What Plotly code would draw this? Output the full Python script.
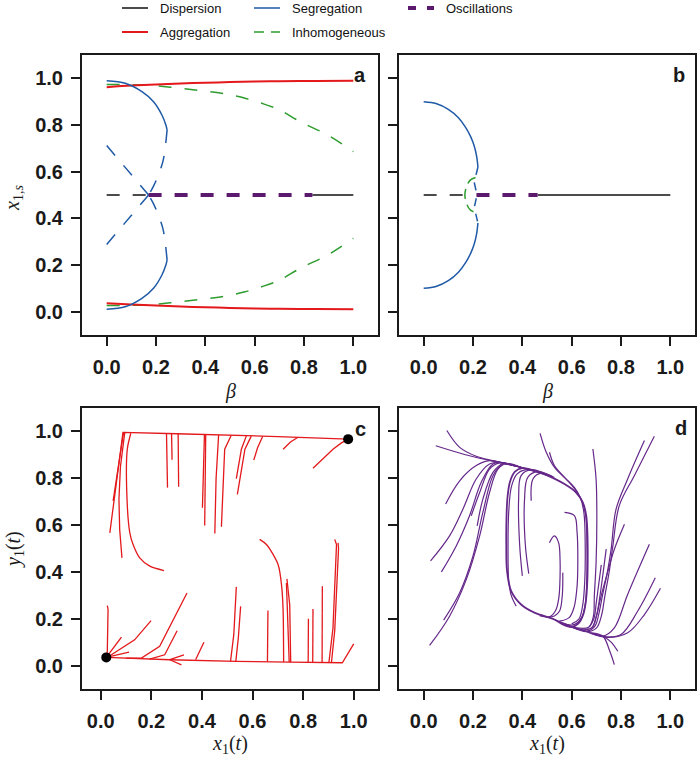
import plotly.graph_objects as go

# ---------------- data: panel a (bifurcation, case 1) ----------------
ticks = [0.0, 0.2, 0.4, 0.6, 0.8, 1.0]
tick_text = ["0.0", "0.2", "0.4", "0.6", "0.8", "1.0"]

a_red_b = [0.0, 0.1, 0.2, 0.3, 0.4, 0.5, 0.6, 0.7, 0.85, 1.0]
a_red_hi = [0.962, 0.969, 0.974, 0.978, 0.981, 0.984, 0.986, 0.988, 0.989, 0.990]
a_red_lo = [0.036, 0.031, 0.026, 0.022, 0.019, 0.016, 0.014, 0.012, 0.011, 0.010]

a_green_b = [0.0, 0.156, 0.258, 0.359, 0.467, 0.561, 0.629, 0.7, 0.785, 0.9, 1.0]
a_green_hi = [0.974, 0.971, 0.962, 0.950, 0.936, 0.915, 0.893, 0.865, 0.814, 0.755, 0.686]
a_green_lo = [0.026, 0.029, 0.038, 0.050, 0.064, 0.085, 0.107, 0.135, 0.186, 0.245, 0.314]

a_blue_sol_b = [0.0, 0.075, 0.143, 0.19, 0.224, 0.24, 0.245]
a_blue_sol_hi = [0.990, 0.979, 0.943, 0.900, 0.843, 0.800, 0.779]
a_blue_sol_lo = [0.010, 0.021, 0.057, 0.100, 0.157, 0.200, 0.221]
a_blue_dc_b = [0.245, 0.237, 0.228, 0.213, 0.19, 0.17]
a_blue_dc_hi = [0.779, 0.700, 0.644, 0.595, 0.538, 0.500]
a_blue_dc_lo = [0.221, 0.300, 0.356, 0.405, 0.462, 0.500]
a_blue_ds_b = [0.0, 0.17]
a_blue_ds_hi = [0.712, 0.500]
a_blue_ds_lo = [0.288, 0.500]

a_disp_dash_b = [0.0, 0.17]
a_osc_b = [0.17, 0.834]
a_disp_sol_b = [0.834, 1.0]
a_disp_level = [0.5, 0.5]

# ---------------- data: panel b (bifurcation, case 2) ----------------
b_blue_b = [0.0, 0.05, 0.1, 0.14, 0.17, 0.19, 0.205, 0.215, 0.22]
b_blue_hi = [0.900, 0.892, 0.867, 0.832, 0.790, 0.751, 0.710, 0.664, 0.620]
b_blue_lo = [0.100, 0.108, 0.133, 0.168, 0.210, 0.249, 0.290, 0.336, 0.380]
b_blue_dash_b = [0.22, 0.212, 0.205, 0.21, 0.215, 0.21, 0.205, 0.212, 0.22]
b_blue_dash_y = [0.62, 0.585, 0.56, 0.53, 0.50, 0.47, 0.44, 0.415, 0.38]
b_green_b = [0.21, 0.19, 0.175, 0.167, 0.175, 0.19, 0.21]
b_green_y = [0.575, 0.565, 0.54, 0.50, 0.46, 0.435, 0.425]
b_disp_dash_b = [0.0, 0.163]
b_osc_b = [0.214, 0.462]
b_disp_sol_b = [0.462, 1.0]

# ---------------- data: panel c (aggregation trajectories) ----------------
c_traj_x = [
    [0.036, 0.050, 0.065, 0.088, 0.3, 0.5, 0.7, 0.978],
    [0.049, 0.07, 0.09],
    [0.084, 0.075, 0.072, 0.078, 0.095],
    [0.25, 0.194, 0.154, 0.128, 0.115, 0.104, 0.105, 0.119],
    [0.264, 0.262, 0.26],
    [0.282, 0.281, 0.28],
    [0.308, 0.307, 0.306],
    [0.402, 0.405, 0.41],
    [0.411, 0.412, 0.415],
    [0.451, 0.456, 0.466],
    [0.477, 0.486, 0.49, 0.516],
    [0.536, 0.556, 0.576],
    [0.54, 0.558, 0.57, 0.595],
    [0.605, 0.62, 0.64],
    [0.721, 0.75, 0.78],
    [0.839, 0.88, 0.918, 0.95, 0.978],
    [1.0, 0.955, 0.75, 0.536, 0.273, 0.049, 0.022],
    [0.026, 0.029, 0.026, 0.022],
    [0.082, 0.022],
    [0.112, 0.06, 0.022],
    [0.199, 0.134, 0.03],
    [0.341, 0.233, 0.161, 0.1],
    [0.302, 0.253, 0.193],
    [0.408, 0.375],
    [0.536, 0.526, 0.513],
    [0.553, 0.544, 0.534],
    [0.661, 0.661, 0.659],
    [0.628, 0.655, 0.701, 0.716, 0.721, 0.723],
    [0.736, 0.747, 0.751],
    [0.734, 0.74, 0.745],
    [0.821, 0.821, 0.82],
    [0.839, 0.84, 0.838],
    [0.876, 0.876, 0.875],
    [0.925, 0.932, 0.918, 0.902],
    [0.938, 0.94, 0.925, 0.912],
    [0.329, 0.273, 0.319],
]
c_traj_y = [
    [0.567, 0.68, 0.82, 0.996, 0.99, 0.985, 0.978, 0.967],
    [0.703, 0.85, 0.994],
    [0.46, 0.58, 0.71, 0.85, 0.995],
    [0.406, 0.425, 0.46, 0.517, 0.567, 0.71, 0.924, 0.992],
    [0.76, 0.88, 0.99],
    [0.879, 0.94, 0.99],
    [0.764, 0.88, 0.99],
    [0.674, 0.85, 0.988],
    [0.598, 0.8, 0.988],
    [0.564, 0.8, 0.985],
    [0.593, 0.8, 0.924, 0.984],
    [0.798, 0.924, 0.982],
    [0.731, 0.85, 0.924, 0.98],
    [0.878, 0.93, 0.978],
    [0.924, 0.955, 0.975],
    [0.843, 0.885, 0.924, 0.95, 0.967],
    [0.093, 0.012, 0.015, 0.018, 0.025, 0.033, 0.035],
    [0.256, 0.24, 0.06, 0.035],
    [0.122, 0.035],
    [0.057, 0.045, 0.035],
    [0.192, 0.11, 0.038],
    [0.31, 0.082, 0.032, 0.032],
    [0.149, 0.046, 0.028],
    [0.1, 0.025],
    [0.336, 0.132, 0.018],
    [0.253, 0.12, 0.018],
    [0.235, 0.1, 0.016],
    [0.539, 0.517, 0.432, 0.33, 0.232, 0.015],
    [0.37, 0.26, 0.014],
    [0.353, 0.2, 0.014],
    [0.2, 0.1, 0.013],
    [0.242, 0.12, 0.013],
    [0.339, 0.15, 0.013],
    [0.539, 0.517, 0.16, 0.013],
    [0.524, 0.5, 0.15, 0.013],
    [0.046, 0.025, 0.003],
]
c_curved = [3, 27]
c_fixed_x = [0.022, 0.978]
c_fixed_y = [0.035, 0.967]

# ---------------- data: panel d (oscillation trajectories) ----------------
d_traj_x = [
    # limit cycle
    [0.335, 0.336, 0.340, 0.350, 0.370, 0.400, 0.450, 0.503, 0.571, 0.618, 0.645, 0.659, 0.664, 0.665,
     0.663, 0.657, 0.646, 0.628, 0.600, 0.560, 0.530, 0.449, 0.395, 0.355, 0.338, 0.335],
    # left incoming
    [0.049, 0.186, 0.321, 0.422, 0.503],
    [0.094, 0.146, 0.213, 0.281, 0.35, 0.422],
    [0.089, 0.146, 0.213, 0.267, 0.33, 0.40],
    [0.028, 0.105, 0.159, 0.213, 0.267, 0.314, 0.38],
    [0.072, 0.132, 0.186, 0.233, 0.281, 0.321, 0.39],
    [0.193, 0.227, 0.267, 0.308, 0.36],
    [0.217, 0.24, 0.281, 0.321, 0.37],
    [0.024, 0.105, 0.173, 0.227, 0.267, 0.301, 0.335, 0.40],
    [0.081, 0.146, 0.2, 0.24, 0.281, 0.321, 0.39],
    # from the top, down the right side
    [0.472, 0.497, 0.53, 0.584, 0.618, 0.643, 0.657, 0.662, 0.661, 0.655, 0.64, 0.61, 0.56],
    [0.51, 0.53, 0.571, 0.611, 0.636, 0.65, 0.655, 0.653, 0.645, 0.63, 0.60],
    # right incoming
    [0.686, 0.699, 0.702, 0.699, 0.692, 0.688, 0.67, 0.63, 0.58],
    [0.895, 0.827, 0.78, 0.76, 0.745, 0.725, 0.71, 0.695, 0.665, 0.62, 0.55],
    [0.935, 0.854, 0.793, 0.767, 0.752, 0.735, 0.72, 0.70, 0.66, 0.60],
    [0.915, 0.827, 0.773, 0.726, 0.638, 0.53],
    [0.939, 0.868, 0.80, 0.733, 0.66],
    [0.96, 0.895, 0.827, 0.746, 0.68],
    [0.814, 0.773, 0.746, 0.72, 0.70, 0.685, 0.65, 0.58],
    [0.74, 0.728, 0.715, 0.70, 0.68, 0.64],
    [0.72, 0.71, 0.70, 0.69, 0.672],
    [0.773, 0.755, 0.726, 0.68],
    [0.787, 0.76, 0.733, 0.69],
    # inner
    [0.564, 0.562, 0.551, 0.53, 0.503],
    [0.51, 0.53, 0.547, 0.553, 0.553, 0.548, 0.535, 0.51, 0.47],
    [0.571, 0.611, 0.622, 0.625, 0.622, 0.61, 0.59, 0.55],
    [0.40, 0.389, 0.385, 0.395, 0.436, 0.50],
    [0.426, 0.412, 0.409, 0.422, 0.463, 0.52],
    [0.436, 0.443, 0.476, 0.53],
    [0.375, 0.355, 0.345, 0.342, 0.345, 0.356, 0.378, 0.41, 0.45],
]
d_traj_y = [
    [0.520, 0.640, 0.720, 0.785, 0.828, 0.843, 0.832, 0.811, 0.775, 0.739, 0.697, 0.640, 0.560, 0.450,
     0.350, 0.270, 0.215, 0.180, 0.165, 0.178, 0.197, 0.226, 0.261, 0.318, 0.404, 0.520],
    [0.939, 0.896, 0.864, 0.839, 0.811],
    [1.004, 0.932, 0.894, 0.875, 0.858, 0.839],
    [0.69, 0.789, 0.854, 0.875, 0.863, 0.845],
    [0.447, 0.554, 0.668, 0.797, 0.861, 0.868, 0.85],
    [0.40, 0.511, 0.64, 0.782, 0.861, 0.866, 0.848],
    [0.64, 0.739, 0.839, 0.866, 0.855],
    [0.597, 0.711, 0.825, 0.862, 0.852],
    [0.086, 0.211, 0.368, 0.554, 0.739, 0.839, 0.862, 0.845],
    [0.194, 0.311, 0.468, 0.654, 0.811, 0.861, 0.847],
    [0.992, 0.911, 0.847, 0.789, 0.746, 0.70, 0.64, 0.50, 0.36, 0.26, 0.205, 0.175, 0.18],
    [0.911, 0.854, 0.804, 0.761, 0.715, 0.65, 0.50, 0.36, 0.26, 0.20, 0.178],
    [0.925, 0.796, 0.625, 0.44, 0.30, 0.21, 0.165, 0.16, 0.172],
    [0.961, 0.797, 0.668, 0.497, 0.40, 0.30, 0.22, 0.17, 0.148, 0.158, 0.185],
    [0.979, 0.811, 0.683, 0.511, 0.40, 0.30, 0.21, 0.16, 0.145, 0.165],
    [0.518, 0.304, 0.161, 0.126, 0.154, 0.197],
    [0.375, 0.233, 0.133, 0.124, 0.148],
    [0.33, 0.218, 0.14, 0.12, 0.138],
    [0.604, 0.497, 0.40, 0.30, 0.21, 0.165, 0.152, 0.17],
    [0.497, 0.40, 0.30, 0.21, 0.16, 0.158],
    [0.43, 0.35, 0.27, 0.20, 0.165],
    [0.004, 0.06, 0.126, 0.14],
    [0.061, 0.10, 0.121, 0.136],
    [0.397, 0.30, 0.233, 0.212, 0.207],
    [0.525, 0.554, 0.525, 0.45, 0.383, 0.29, 0.235, 0.208, 0.213],
    [0.654, 0.64, 0.568, 0.45, 0.34, 0.25, 0.205, 0.19],
    [0.383, 0.518, 0.711, 0.811, 0.837, 0.815],
    [0.393, 0.518, 0.711, 0.804, 0.828, 0.808],
    [0.704, 0.797, 0.822, 0.803],
    [0.254, 0.30, 0.36, 0.50, 0.66, 0.765, 0.818, 0.836, 0.83],
]

# ---------------- styling ----------------
BLACK = "#111111"
RED = "#e3191c"
BLUE = "#1f5aa6"
GREEN = "#2e9c2e"
PURPLE = "#5c1a6e"
DPURPLE = "#65288a"
DASH = "13px,13px"

fig = go.Figure()


def line(xa, ya, x, y, color, width, dash="solid", smooth=0.9):
    shape = "spline" if smooth > 0 else "linear"
    ld = dict(color=color, width=width, dash=dash, shape=shape)
    if smooth > 0:
        ld["smoothing"] = smooth
    fig.add_trace(go.Scatter(x=x, y=y, mode="lines", xaxis=xa, yaxis=ya, line=ld,
                             showlegend=False, hoverinfo="skip"))


# panel a
line("x", "y", a_green_b, a_green_hi, GREEN, 1.5, DASH)
line("x", "y", a_green_b, a_green_lo, GREEN, 1.5, DASH)
line("x", "y", a_red_b, a_red_hi, RED, 2)
line("x", "y", a_red_b, a_red_lo, RED, 2)
line("x", "y", a_blue_sol_b, a_blue_sol_hi, BLUE, 1.5)
line("x", "y", a_blue_sol_b, a_blue_sol_lo, BLUE, 1.5)
line("x", "y", a_blue_dc_b, a_blue_dc_hi, BLUE, 1.5, DASH)
line("x", "y", a_blue_dc_b, a_blue_dc_lo, BLUE, 1.5, DASH)
line("x", "y", a_blue_ds_b, a_blue_ds_hi, BLUE, 1.5, DASH)
line("x", "y", a_blue_ds_b, a_blue_ds_lo, BLUE, 1.5, DASH)
line("x", "y", a_disp_dash_b, a_disp_level, BLACK, 1.5, DASH)
line("x", "y", a_disp_sol_b, a_disp_level, BLACK, 1.5)
line("x", "y", a_osc_b, a_disp_level, PURPLE, 4, DASH)

# panel b
line("x2", "y2", b_blue_b, b_blue_hi, BLUE, 1.5)
line("x2", "y2", b_blue_b, b_blue_lo, BLUE, 1.5)
line("x2", "y2", b_blue_dash_b, b_blue_dash_y, BLUE, 1.5, "8px,8px")
line("x2", "y2", b_green_b, b_green_y, GREEN, 1.5, "10px,6px")
line("x2", "y2", b_disp_dash_b, a_disp_level, BLACK, 1.5, DASH)
line("x2", "y2", b_disp_sol_b, a_disp_level, BLACK, 1.5)
line("x2", "y2", b_osc_b, a_disp_level, PURPLE, 4, DASH)

# panel c
for i, (tx, ty) in enumerate(zip(c_traj_x, c_traj_y)):
    line("x3", "y3", tx, ty, RED, 1.3, smooth=0.8 if i in c_curved else 0)
fig.add_trace(go.Scatter(x=c_fixed_x, y=c_fixed_y, mode="markers", xaxis="x3", yaxis="y3",
                         marker=dict(color="black", size=10), showlegend=False, hoverinfo="skip"))

# panel d
for i, (tx, ty) in enumerate(zip(d_traj_x, d_traj_y)):
    line("x4", "y4", tx, ty, DPURPLE, 1.8 if i == 0 else 1.2, smooth=1.0)

# ---------------- layout ----------------
L, R, T, B = 82, 2, 55, 70
W, H = 697, 759
PW, PH = W - L - R, H - T - B


def px2x(px):
    return (px - L) / PW


def px2y(py):
    return (H - B - py) / PH


axis_common = dict(
    showline=True, mirror=True, linecolor="#1a1a1a", linewidth=2,
    ticks="outside", ticklen=9, tickwidth=1.5, tickcolor="#1a1a1a",
    showgrid=False, zeroline=False, tickvals=ticks, ticktext=tick_text,
    tickfont=dict(family="Liberation Sans, Arial, sans-serif", size=20, color="#1a1a1a", weight="bold"),
    ticklabelstandoff=4,
)

dom_left = [0, px2x(378)]
dom_right = [px2x(399), 1]
dom_top = [px2y(335), 1]
dom_bot = [0, px2y(408)]

fig.update_layout(
    width=W, height=H,
    margin=dict(l=L, r=R, t=T, b=B, autoexpand=False),
    paper_bgcolor="white", plot_bgcolor="white",
    showlegend=False,
    xaxis=dict(axis_common, domain=dom_left, range=[-0.1, 1.1], anchor="y"),
    yaxis=dict(axis_common, domain=dom_top, range=[-0.1, 1.1], anchor="x"),
    xaxis2=dict(axis_common, domain=dom_right, range=[-0.1, 1.1], anchor="y2"),
    yaxis2=dict(axis_common, domain=dom_top, range=[-0.1, 1.1], anchor="x2", showticklabels=False),
    xaxis3=dict(axis_common, domain=dom_left, range=[-0.074, 1.096], anchor="y3"),
    yaxis3=dict(axis_common, domain=dom_bot, range=[-0.1, 1.1], anchor="x3"),
    xaxis4=dict(axis_common, domain=dom_right, range=[-0.1, 1.1], anchor="y4"),
    yaxis4=dict(axis_common, domain=dom_bot, range=[-0.1, 1.1], anchor="x4", showticklabels=False),
)

ann = []
label_font = dict(family="Liberation Sans, Arial, sans-serif", size=20, color="#1a1a1a", weight="bold")
for txt, px, py in [("a", 360, 75), ("b", 679, 75), ("c", 360, 429), ("d", 681, 428)]:
    ann.append(dict(text=txt, x=px2x(px), y=px2y(py), xref="paper", yref="paper",
                    showarrow=False, font=label_font, xanchor="center", yanchor="middle"))

math_font = dict(family="Liberation Serif, DejaVu Serif, serif", size=20, color="#1a1a1a")
for txt, px, py, ang in [
    ("<i>β</i>", 230, 391, 0), ("<i>β</i>", 547, 391, 0),
    ("<i>x</i><sub>1</sub>(<i>t</i>)", 230, 745, 0), ("<i>x</i><sub>1</sub>(<i>t</i>)", 547, 745, 0),
    ("<i>y</i><sub>1</sub>(<i>t</i>)", 14, 550, -90), ("<i>x</i><sub>1,<i>s</i></sub>", 13, 198, -90),
]:
    ann.append(dict(text=txt, x=px2x(px), y=px2y(py), xref="paper", yref="paper", textangle=ang,
                    showarrow=False, font=math_font, xanchor="center", yanchor="middle"))

# legend (drawn as key samples + text)
leg_font = dict(family="Liberation Sans, Arial, sans-serif", size=13, color="#111111")
legend_items = [
    ("Dispersion", 122, 8, BLACK, 1.5, "solid"),
    ("Segregation", 254, 8, BLUE, 1.5, "solid"),
    ("Oscillations", 408, 8, PURPLE, 4, "8px,11px"),
    ("Aggregation", 122, 32, RED, 2, "solid"),
    ("Inhomogeneous", 254, 32, GREEN, 1.5, "10px,7px"),
]
shapes = []
for name, px, py, col, wd, ds in legend_items:
    shapes.append(dict(type="line", xref="paper", yref="paper",
                       x0=px2x(px), x1=px2x(px + 26), y0=px2y(py), y1=px2y(py),
                       line=dict(color=col, width=wd, dash=ds)))
    ann.append(dict(text=name, x=px2x(px + 36), y=px2y(py), xref="paper", yref="paper",
                    showarrow=False, font=leg_font, xanchor="left", yanchor="middle"))

fig.update_layout(annotations=ann, shapes=shapes)

fig.write_html("out.html", config={"displayModeBar": False},
               post_script="document.body.style.margin='0px';document.body.style.overflow='hidden';")
